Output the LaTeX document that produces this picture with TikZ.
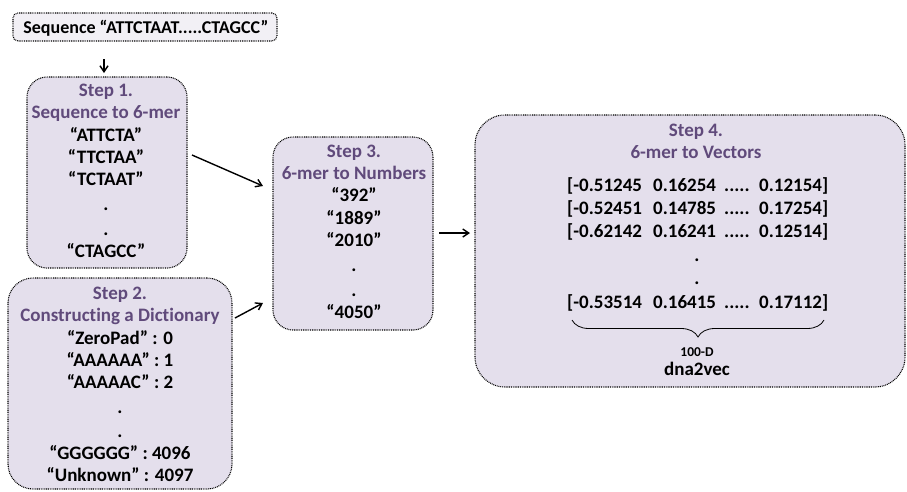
\documentclass[tikz,border=0pt]{standalone}
\usepackage{fontspec}
\setmainfont{Carlito}[Ligatures={NoCommon}]
\usetikzlibrary{arrows.meta,decorations.pathreplacing}

\definecolor{boxfill}{HTML}{E4DFEC}
\definecolor{topfill}{HTML}{F2F0F5}
\definecolor{titlepurple}{HTML}{604A7B}

\tikzset{
  stepbox/.style={draw=black, fill=boxfill, line width=1.1pt,
    dash pattern=on 0.9pt off 0.9pt, rectangle, inner sep=0pt},
  lbl/.style={anchor=base, inner sep=0pt, font=\bfseries\fontsize{19}{22}\selectfont},
  ttl/.style={lbl, text=titlepurple},
  small/.style={anchor=base, inner sep=0pt, font=\bfseries\fontsize{13.5}{16}\selectfont},
  flow/.style={line width=1.4pt, -{Straight Barb[length=6pt,width=8pt,line width=1.4pt]}},
}

\newcommand{\vrow}[4]{\makebox[86pt][l]{#1}\makebox[71pt][l]{#2}\makebox[35pt][l]{#3}#4}

\begin{document}
\begin{tikzpicture}[x=1pt,y=-1pt]
\useasboundingbox (0,0) rectangle (907,491);

% input sequence
\node[stepbox, fill=topfill, rounded corners=5pt, minimum width=264pt, minimum height=28pt] (s0) at (145,27) {};
\node[lbl, font=\bfseries\fontsize{18}{21}\selectfont] (s0t) at (146,33) {Sequence “ATTCTAAT.....CTAGCC”};

% step boxes
\node[stepbox, rounded corners=20pt, minimum width=160pt, minimum height=191pt] (s1) at (107,172.5) {};
\node[stepbox, rounded corners=25pt, minimum width=224pt, minimum height=211pt] (s2) at (120,383.5) {};
\node[stepbox, rounded corners=20pt, minimum width=160pt, minimum height=193pt] (s3) at (353,233.5) {};
\node[stepbox, rounded corners=30pt, minimum width=430pt, minimum height=272pt] (s4) at (690,251) {};

% step 1
\node[ttl] (s1a) at (106,96) {Step 1.};
\node[ttl] (s1b) at (106,118) {Sequence to 6-mer};
\node[lbl] (s1c) at (106,141) {“ATTCTA”};
\node[lbl] (s1d) at (106,163) {“TTCTAA”};
\node[lbl] (s1e) at (106,185) {“TCTAAT”};
\node[lbl] (s1f) at (106,210) {.};
\node[lbl] (s1g) at (106,235) {.};
\node[lbl] (s1h) at (106,257) {“CTAGCC”};

% step 2
\node[ttl] (s2a) at (120,299) {Step 2.};
\node[ttl] (s2b) at (120,321) {Constructing a Dictionary};
\node[lbl] (s2c) at (120,344) {“ZeroPad” : 0};
\node[lbl] (s2d) at (120,366) {“AAAAAA” : 1};
\node[lbl] (s2e) at (120,388) {“AAAAAC” : 2};
\node[lbl] (s2f) at (120,413) {.};
\node[lbl] (s2g) at (120,437) {.};
\node[lbl] (s2h) at (120,459) {“GGGGGG” : 4096};
\node[lbl] (s2i) at (120,481) {“Unknown” : 4097};

% step 3
\node[ttl] (s3a) at (354,157) {Step 3.};
\node[ttl] (s3b) at (354,179) {6-mer to Numbers};
\node[lbl] (s3c) at (354,201) {“392”};
\node[lbl] (s3d) at (354,224) {“1889”};
\node[lbl] (s3e) at (354,246) {“2010”};
\node[lbl] (s3f) at (354,271) {.};
\node[lbl] (s3g) at (354,296) {.};
\node[lbl] (s3h) at (354,318) {“4050”};

% step 4
\node[ttl] (s4a) at (696,136) {Step 4.};
\node[ttl] (s4b) at (696,158) {6-mer to Vectors};
\node[lbl, anchor=base west] (r1) at (567,191) {\vrow{[-0.51245}{0.16254}{.....}{0.12154]}};
\node[lbl, anchor=base west] (r2) at (567,214) {\vrow{[-0.52451}{0.14785}{.....}{0.17254]}};
\node[lbl, anchor=base west] (r3) at (567,237) {\vrow{[-0.62142}{0.16241}{.....}{0.12514]}};
\node[lbl] (s4f) at (697,261) {.};
\node[lbl] (s4g) at (697,284) {.};
\node[lbl, anchor=base west] (r4) at (567,308) {\vrow{[-0.53514}{0.16415}{.....}{0.17112]}};
\coordinate (bl) at (572,320);
\coordinate (br) at (824,320);
\draw[line width=0.8pt, decorate, decoration={brace, mirror, amplitude=17pt, aspect=0.5}] (bl) -- (br);
\node[small] (dim) at (697,356) {100-D};
\node[lbl] (d2v) at (697,375) {dna2vec};

% connectors
\coordinate (a0s) at (104,59);
\coordinate (a0e) at (104,73);
\draw[flow, line width=1.2pt] (a0s) -- (a0e);
\coordinate (a1s) at (192,155);
\coordinate (a1e) at (263,186);
\draw[flow] (a1s) -- (a1e);
\coordinate (a2s) at (235,318);
\coordinate (a2e) at (263,303);
\draw[flow] (a2s) -- (a2e);
\coordinate (a3s) at (439,233);
\coordinate (a3e) at (470,233);
\draw[flow] (a3s) -- (a3e);
\end{tikzpicture}
\end{document}
